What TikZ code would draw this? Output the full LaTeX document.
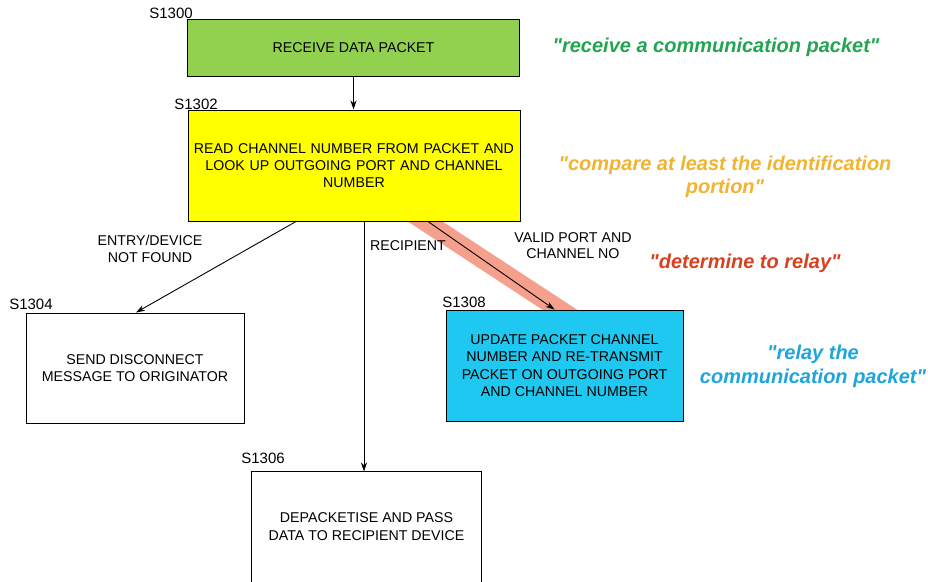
\documentclass[tikz,border=0pt]{standalone}
\usepackage{fontspec}
\setmainfont{Liberation Sans}
\newfontfamily\notefont{Liberation Sans}[Ligatures=TeXOff]
\usetikzlibrary{arrows.meta}
\definecolor{boxgreen}{HTML}{92D050}
\definecolor{boxyellow}{HTML}{FFFF00}
\definecolor{boxcyan}{HTML}{1EC8F0}
\definecolor{bandcol}{HTML}{F4A08C}
\definecolor{txtgreen}{HTML}{22A550}
\definecolor{txtorange}{HTML}{F2B430}
\definecolor{txtred}{HTML}{D8401E}
\definecolor{txtblue}{HTML}{1EA5DC}
\begin{document}
\begin{tikzpicture}[x=1pt,y=-1pt,
  stepbox/.style={draw=black, line width=1pt, inner sep=0pt, align=center, font=\fontsize{14.2}{17.3}\selectfont},
  steplabel/.style={inner sep=0pt, font=\fontsize{15}{16}\selectfont},
  edgelabel/.style={inner sep=0pt, align=center, font=\fontsize{14.2}{16.5}\selectfont},
  note/.style={inner sep=0pt, align=center, font=\notefont\fontsize{20}{23.5}\selectfont\bfseries\itshape},
  flow/.style={draw=black, line width=0.9pt, -{Stealth[length=9pt,width=6pt]}}]
\clip (0,0) rectangle (928,581);
\fill[white] (0,0) rectangle (928,581);
% highlight band
\draw[bandcol, line width=19pt] (403,207) -- (580,323);
% boxes
\node[stepbox, fill=boxgreen, minimum width=332pt, minimum height=57pt] (recv) at (353.5,47.5) {RECEIVE DATA PACKET};
\node[stepbox, fill=boxyellow, minimum width=332pt, minimum height=111pt, text width=330pt] (read) at (354,165.5) {READ CHANNEL NUMBER FROM PACKET AND\\LOOK UP OUTGOING PORT AND CHANNEL\\NUMBER};
\node[stepbox, fill=white, minimum width=218pt, minimum height=110pt] (disc) at (135,368) {SEND DISCONNECT\\MESSAGE TO ORIGINATOR};
\node[stepbox, fill=boxcyan, minimum width=237pt, minimum height=111pt] (relay) at (564.5,365.5) {UPDATE PACKET CHANNEL\\NUMBER AND RE-TRANSMIT\\PACKET ON OUTGOING PORT\\AND CHANNEL NUMBER};
\node[stepbox, draw=none, minimum width=229pt, minimum height=109pt] (dep) at (366.5,526.5) {DEPACKETISE AND PASS\\DATA TO RECIPIENT DEVICE};
\draw[line width=1pt] (dep.north west) rectangle ([yshift=-15pt]dep.south east);
% step labels
\node[steplabel] (l1300) at (171,13) {S1300};
\node[steplabel] (l1302) at (196,104) {S1302};
\node[steplabel] (l1304) at (31,304) {S1304};
\node[steplabel] (l1306) at (263,458) {S1306};
\node[steplabel] (l1308) at (464,302) {S1308};
% edge labels
\node[edgelabel] (lnf) at (150,249) {ENTRY/DEVICE\\NOT FOUND};
\node[edgelabel] (lrec) at (408,246) {RECIPIENT};
\node[edgelabel] (lvalid) at (573,245.5) {VALID PORT AND\\CHANNEL NO};
% annotations
\node[note, text=txtgreen] (n1) at (716,47) {"receive a communication packet"};
\node[note, text=txtorange] (n2) at (725,177) {"compare at least the identification\\portion"};
\node[note, text=txtred] (n3) at (745,263) {"determine to relay"};
\node[note, text=txtblue] (n4) at (813,366.5) {"relay the\\communication packet"};
% connectors
\draw[flow] (recv.south) -- (recv.south |- read.north);
\draw[flow] ([xshift=-58pt]read.south) -- ([xshift=1pt]disc.north);
\draw[flow] ([xshift=-2.5pt]dep.north |- read.south) -- ([xshift=-2.5pt]dep.north);
\draw[flow] ([xshift=74pt]read.south) -- ([xshift=-10pt]relay.north);
\end{tikzpicture}
\end{document}
